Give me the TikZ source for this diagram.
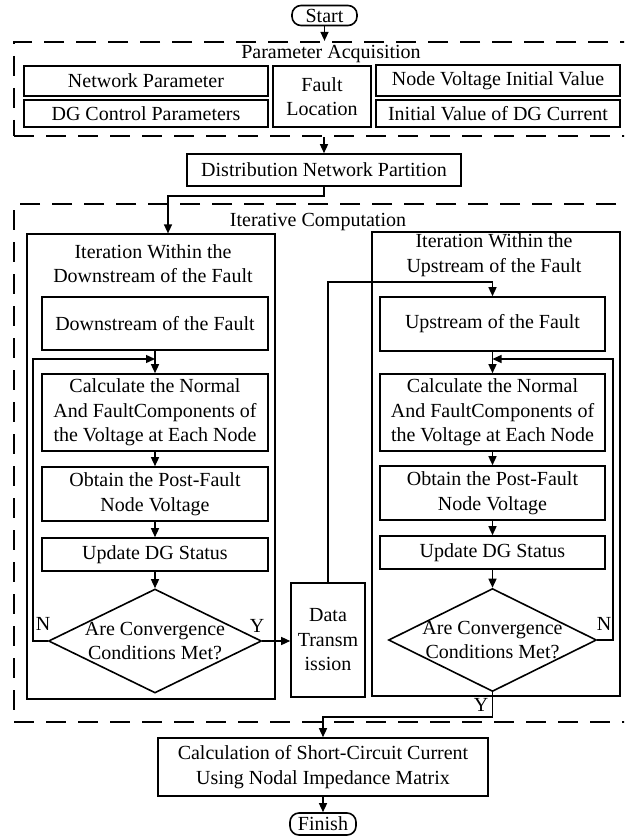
\documentclass[tikz,border=0pt]{standalone}
\usepackage{fontspec}
\setmainfont{Liberation Serif}
\usetikzlibrary{arrows.meta,shapes.geometric}
\begin{document}
\begin{tikzpicture}[x=1pt,y=-1pt,
  every node/.style={font=\fontsize{20}{24.5}\selectfont, inner sep=0pt, align=center},
  box/.style={draw, line width=1.6pt},
  bigbox/.style={draw, line width=1.2pt},
  term/.style={draw, line width=1.6pt, rounded corners=9pt},
  dbox/.style={draw, line width=2.2pt, dash pattern=on 20pt off 12pt},
  dia/.style={draw, line width=1.6pt, diamond, shape aspect=2},
  arr/.style={line width=1.4pt, -{Triangle[length=9pt,width=8pt]}},
  lbl/.style={}
]
\clip (0,0) rectangle (624,837);
\useasboundingbox (0,0) rectangle (624,837);

% terminals
\node[term, minimum width=65pt, minimum height=20pt] (start) at (324.5,15.5) {Start};
\node[term, minimum width=66pt, minimum height=22pt] (finish) at (323,824) {Finish};

% parameter acquisition
\node[dbox, minimum width=618pt, minimum height=94pt] (pa) at (323,89) {};
\node[lbl] (palbl) at (331,54) {Parameter Acquisition};
\node[box, minimum width=244pt, minimum height=30pt] (np) at (146,81) {Network Parameter};
\node[box, minimum width=244pt, minimum height=27pt] (dgc) at (146,113.5) {DG Control Parameters};
\node[box, minimum width=98pt, minimum height=61pt] (fl) at (322,96.5) {Fault\\Location};
\node[box, minimum width=244pt, minimum height=31pt] (nv) at (498,80.5) {Node Voltage Initial Value};
\node[box, minimum width=244pt, minimum height=27pt] (dgi) at (498,113.5) {Initial Value of DG Current};

\node[box, minimum width=274pt, minimum height=32pt] (dnp) at (324,170) {Distribution Network Partition};

% iterative computation
\node[dbox, minimum width=618pt, minimum height=518pt] (ic) at (323,463) {};
\node[lbl] (iclbl) at (318,222) {Iterative Computation};

% left branch
\node[bigbox, minimum width=248pt, minimum height=465pt] (lbig) at (151,466.5) {};
\node[lbl] (ltitle) at (153,263.5) {Iteration Within the\\Downstream of the Fault};
\node[box, minimum width=226pt, minimum height=53pt] (lds) at (155,323.5) {Downstream of the Fault};
\node[box, minimum width=226pt, minimum height=77pt] (lcalc) at (155,412.5) {Calculate the Normal\\And FaultComponents of\\the Voltage at Each Node};
\node[box, minimum width=226pt, minimum height=54pt] (lobt) at (155,494) {Obtain the Post-Fault\\Node Voltage};
\node[box, minimum width=226pt, minimum height=33pt] (lupd) at (155,554.5) {Update DG Status};
\node[dia, minimum width=213pt, minimum height=104pt] (ldia) at (155,641) {};
\node[lbl] (ldiat) at (155,641) {Are Convergence\\Conditions Met?};
\node[lbl] (ln) at (43,624) {N};
\node[lbl] (ly) at (257,626) {Y};

% data transmission
\node[box, minimum width=74pt, minimum height=114pt] (data) at (328,640) {Data\\Transm\\ission};

% right branch
\node[bigbox, minimum width=248pt, minimum height=464pt] (rbig) at (496,464) {};
\node[lbl] (rtitle) at (494,255) {Iteration Within the\\Upstream of the Fault};
\node[box, minimum width=225pt, minimum height=54pt] (rus) at (492.5,324) {Upstream of the Fault};
\node[box, minimum width=225pt, minimum height=77pt] (rcalc) at (492.5,412.5) {Calculate the Normal\\And FaultComponents of\\the Voltage at Each Node};
\node[box, minimum width=225pt, minimum height=54pt] (robt) at (492.5,493) {Obtain the Post-Fault\\Node Voltage};
\node[box, minimum width=225pt, minimum height=33pt] (rupd) at (492.5,552.5) {Update DG Status};
\node[dia, minimum width=208pt, minimum height=103pt] (rdia) at (492.5,640) {};
\node[lbl] (rdiat) at (492.5,640) {Are Convergence\\Conditions Met?};
\node[lbl] (rn) at (604,624) {N};
\node[lbl] (ry) at (481,705) {Y};

\node[box, minimum width=330pt, minimum height=58pt] (calc) at (323,767) {Calculation of Short-Circuit Current\\Using Nodal Impedance Matrix};

% coordinates for bends
\coordinate (c1) at (168,196);
\coordinate (lfb) at (33,359);
\coordinate (rfb) at (613,359);
\coordinate (dtop) at (0,282);
\coordinate (yout) at (0,717);

% connectors
\draw[arr] (start.south) -- (start.south |- pa.north);
\draw[arr] (dnp.north |- pa.south) -- (dnp.north);
\draw[arr] (dnp.south) |- (c1) -- (c1 |- lbig.north);

\draw[arr] (lds) -- (lcalc);
\draw[arr] (lcalc) -- (lobt);
\draw[arr] (lobt) -- (lupd);
\draw[arr] (lupd) -- (ldia.north);
\draw[arr] (ldia.west) -| (lfb) -- (lfb -| lcalc.north);
\draw[arr] (ldia.east) -- (data.west |- ldia.east);

\draw[arr] (data.north) |- (rus.north |- dtop) -- (rus.north);
\draw[arr] (rus) -- (rcalc);
\draw[arr] (rcalc) -- (robt);
\draw[arr] (robt) -- (rupd);
\draw[arr] (rupd) -- (rdia.north);
\draw[arr] (rdia.east) -| (rfb) -- (rfb -| rcalc.north);
\draw[arr] (rdia.south) |- (calc.north |- yout) -- (calc.north);
\draw[arr] (calc) -- (finish);
\end{tikzpicture}
\end{document}
